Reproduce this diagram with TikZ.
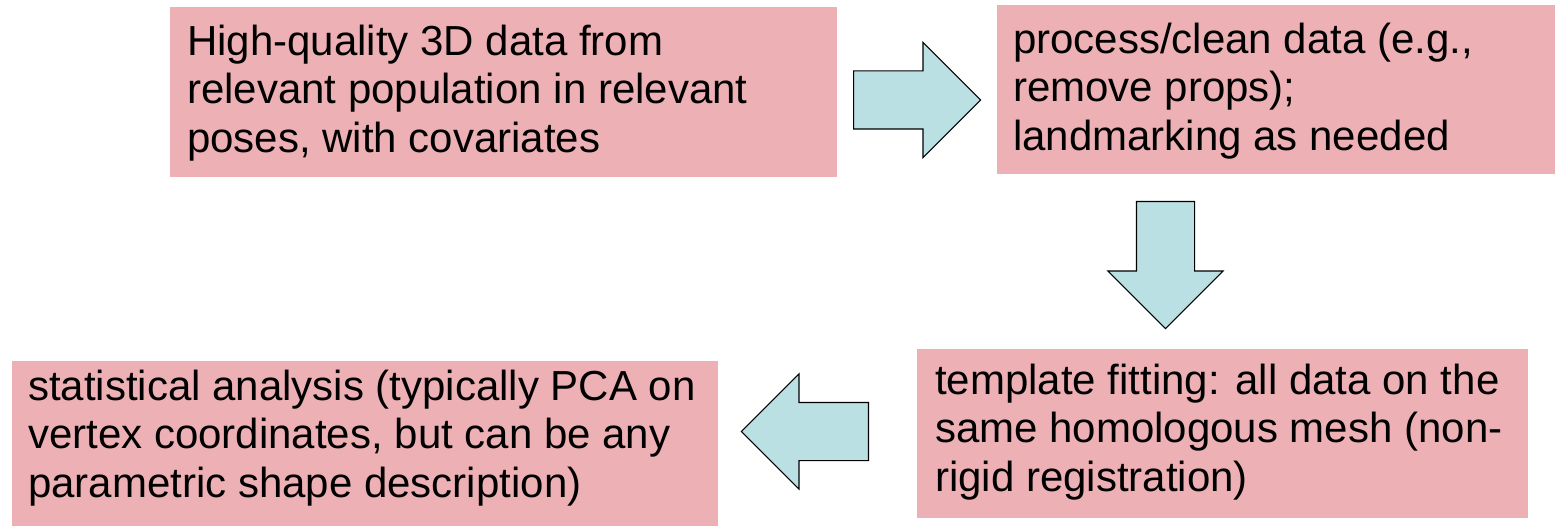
\documentclass[tikz,border=0pt]{standalone}
\usepackage{fontspec}
\setmainfont{Liberation Sans}
\usetikzlibrary{shapes.arrows}
\definecolor{boxpink}{RGB}{237,176,180}
\definecolor{arrowcyan}{RGB}{187,224,227}
\begin{document}
\begin{tikzpicture}[x=1pt,y=-1pt,
  box/.style={fill=boxpink,draw=none,inner sep=0pt,anchor=north west},
  txt/.style={anchor=north west,inner sep=0pt,align=left,font=\fontsize{42}{48.5}\selectfont},
  blockarrow/.style={single arrow,draw=black,line width=1.1pt,fill=arrowcyan,inner xsep=0pt,inner ysep=28.5pt,
    minimum height=127pt,single arrow head extend=28.5pt,single arrow tip angle=90,anchor=tail}]
\useasboundingbox (0,0) rectangle (1555,526);
% boxes
\node[box,minimum width=667pt,minimum height=170pt] (b1) at (170,7) {};
\node[box,minimum width=558pt,minimum height=169pt] (b2) at (997,5) {};
\node[box,minimum width=611pt,minimum height=169pt] (b3) at (917,349) {};
\node[box,minimum width=706pt,minimum height=165pt] (b4) at (12,361) {};
% texts
\node[txt] (t1) at (187,55-34) {\strut High-quality 3D data from\\relevant population in relevant\\poses, with covariates};
\node[txt] (t2) at (1013,53-34) {\strut process/clean data (e.g.,\\remove props);\\landmarking as needed};
\node[txt] (t3) at (935,394-34) {\strut template fitting: all data on the\\same homologous mesh (non-\\rigid registration)};
\node[txt] (t4) at (28,400-34) {\strut statistical analysis (typically PCA on\\vertex coordinates, but can be any\\parametric shape description)};
% block arrows
\node[blockarrow] (a1) at (853,100) {};
\node[blockarrow,rotate=-90] (a2) at (1165.5,201) {};
\node[blockarrow,rotate=180] (a3) at (869,431.5) {};
\end{tikzpicture}
\end{document}
